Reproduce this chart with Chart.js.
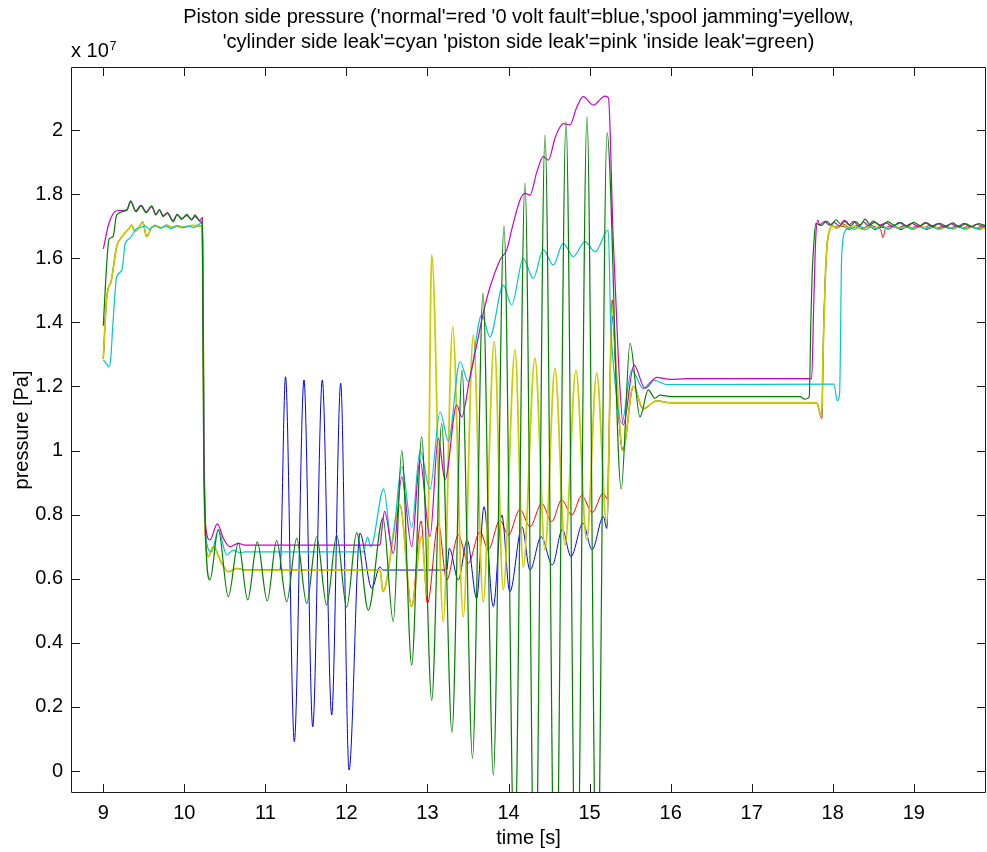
<!DOCTYPE html>
<html><head><meta charset="utf-8">
<script src="https://cdn.jsdelivr.net/npm/chart.js@4/dist/chart.umd.min.js"></script>
<style>html,body{margin:0;padding:0;background:#fff;}canvas{display:block;}</style>
</head><body>
<canvas id="c" width="987" height="852"></canvas>
<script>
// ---- axis tick values ----
const xTicks = [9,10,11,12,13,14,15,16,17,18,19];
const yTicks = [0,0.2,0.4,0.6,0.8,1,1.2,1.4,1.6,1.8,2];
const titleLines = ["Piston side pressure ('normal'=red '0 volt fault'=blue,'spool jamming'=yellow,",
                    "'cylinder side leak'=cyan 'piston side leak'=pink 'inside leak'=green)"];
// values: [time s, pressure x 1e7 Pa]
const commonStart = [[9.00,1.286],[9.04,1.47],[9.10,1.532],[9.165,1.636],[9.23,1.667],[9.308,1.690],[9.35,1.703],[9.391,1.683],[9.45,1.700],[9.486,1.713],[9.535,1.667],[9.597,1.697],[9.65,1.700],[9.72,1.695],[9.78,1.703],[9.85,1.696],[9.92,1.700],[10.0,1.697],[10.1,1.702],[10.222,1.700],[10.25,0.80],[10.296,0.669],[10.357,0.700],[10.461,0.648],[10.542,0.622],[10.646,0.632],[10.75,0.627]];
const normalRed = [[12.414,0.627],[12.45,0.56],[12.66,0.83],[12.805,0.513],[12.92,0.78],[13.0,0.523],[13.133,0.773],[13.237,0.596],[13.38,0.736],[13.503,0.648],[13.648,0.747],[13.75,0.690],[13.894,0.783],[13.997,0.736],[14.141,0.816],[14.265,0.762],[14.409,0.835],[14.532,0.778],[14.656,0.846],[14.779,0.799],[14.903,0.859],[15.033,0.807],[15.169,0.868],[15.215,0.85],[15.28,1.47],[15.33,1.22],[15.41,1.0],[15.54,1.20],[15.66,1.13],[15.83,1.155],[15.99,1.149],[17.80,1.149],[17.865,1.10],[17.885,1.35],[17.91,1.55],[17.93,1.64],[17.965,1.69],[18.0,1.70],[18.06,1.698],[18.14,1.705],[18.22,1.694],[18.30,1.702],[18.38,1.695],[18.46,1.703],[18.54,1.696],[18.59,1.690],[18.62,1.664],[18.65,1.692],[18.72,1.700],[18.80,1.694],[18.88,1.702],[18.96,1.693],[19.04,1.701],[19.12,1.695],[19.20,1.703],[19.28,1.694],[19.36,1.700],[19.44,1.692],[19.52,1.701],[19.60,1.694],[19.68,1.702],[19.76,1.693],[19.84,1.700],[19.90,1.696]];
const voltBlue = [[11.18,0.627],[11.248,1.23],[11.357,0.0915],[11.476,1.22],[11.584,0.138],[11.702,1.22],[11.818,0.175],[11.929,1.21],[12.032,0.003],[12.167,0.742],[12.312,0.570],[12.414,0.637],[12.451,0.627],[13.237,0.627],[13.269,0.695],[13.38,0.596],[13.49,0.72],[13.607,0.539],[13.697,0.825],[13.812,0.513],[13.916,0.799],[14.016,0.559],[14.166,0.762],[14.265,0.627],[14.403,0.731],[14.54,0.643],[14.664,0.754],[14.77,0.669],[14.918,0.773],[15.03,0.690],[15.17,0.794],[15.211,0.757],[15.28,1.42],[15.33,1.22],[15.41,1.0],[15.54,1.20],[15.66,1.13],[15.83,1.155],[15.99,1.149],[17.80,1.149],[17.865,1.105],[17.885,1.35],[17.91,1.55],[17.93,1.64],[17.965,1.69],[18.0,1.70],[18.04,1.694],[18.12,1.700],[18.20,1.690],[18.28,1.698],[18.36,1.692],[18.44,1.701],[18.52,1.690],[18.60,1.697],[18.68,1.693],[18.76,1.700],[18.84,1.689],[18.92,1.698],[19.00,1.692],[19.08,1.700],[19.16,1.690],[19.24,1.697],[19.32,1.693],[19.40,1.701],[19.48,1.691],[19.56,1.698],[19.64,1.692],[19.72,1.699],[19.80,1.690],[19.90,1.697]];
const spoolYellow = [[12.414,0.627],[12.45,0.56],[12.66,0.83],[12.805,0.513],[12.928,0.731],[12.994,0.55],[13.052,1.61],[13.195,0.466],[13.311,1.386],[13.442,0.481],[13.565,1.36],[13.688,0.528],[13.824,1.34],[13.935,0.565],[14.08,1.314],[14.182,0.637],[14.326,1.288],[14.45,0.690],[14.573,1.256],[14.697,0.705],[14.832,1.25],[14.964,0.721],[15.088,1.241],[15.211,0.773],[15.28,1.45],[15.33,1.25],[15.41,1.0],[15.54,1.201],[15.66,1.131],[15.83,1.155],[15.99,1.149],[17.80,1.149],[17.865,1.105],[17.88,1.30],[17.91,1.55],[17.93,1.64],[17.965,1.69],[18.0,1.700],[18.05,1.695],[18.12,1.703],[18.20,1.693],[18.28,1.700],[18.36,1.690],[18.44,1.698],[18.52,1.694],[18.60,1.702],[18.68,1.692],[18.76,1.699],[18.84,1.693],[18.92,1.701],[19.00,1.692],[19.08,1.699],[19.16,1.694],[19.24,1.700],[19.32,1.691],[19.40,1.698],[19.48,1.693],[19.56,1.700],[19.64,1.690],[19.72,1.698],[19.80,1.692],[19.90,1.697]];
const cylCyan = [[9.00,1.283],[9.04,1.270],[9.07,1.261],[9.09,1.283],[9.12,1.40],[9.165,1.542],[9.23,1.563],[9.27,1.646],[9.33,1.662],[9.40,1.690],[9.45,1.695],[9.52,1.700],[9.57,1.690],[9.64,1.703],[9.70,1.694],[9.77,1.700],[9.84,1.692],[9.90,1.702],[9.97,1.695],[10.05,1.700],[10.12,1.695],[10.18,1.706],[10.222,1.71],[10.245,0.95],[10.276,0.71],[10.337,0.684],[10.419,0.752],[10.522,0.674],[10.604,0.689],[10.687,0.681],[10.75,0.684],[12.208,0.684],[12.26,0.73],[12.30,0.70],[12.46,0.88],[12.558,0.710],[12.682,0.95],[12.805,0.76],[12.907,1.0],[13.031,0.88],[13.155,1.121],[13.257,1.03],[13.401,1.277],[13.503,1.215],[13.669,1.423],[13.771,1.355],[13.935,1.516],[14.039,1.454],[14.182,1.599],[14.305,1.537],[14.429,1.626],[14.552,1.579],[14.675,1.646],[14.799,1.605],[14.943,1.652],[15.067,1.620],[15.23,1.688],[15.26,1.40],[15.30,1.25],[15.396,1.085],[15.519,1.251],[15.662,1.194],[15.786,1.22],[15.951,1.206],[16.2,1.206],[18.015,1.207],[18.056,1.155],[18.085,1.18],[18.11,1.605],[18.151,1.683],[18.213,1.695],[18.27,1.690],[18.33,1.700],[18.40,1.688],[18.47,1.698],[18.54,1.692],[18.61,1.703],[18.68,1.690],[18.75,1.700],[18.82,1.693],[18.90,1.702],[18.98,1.690],[19.06,1.699],[19.14,1.692],[19.22,1.701],[19.30,1.690],[19.38,1.698],[19.46,1.693],[19.54,1.700],[19.62,1.691],[19.70,1.699],[19.78,1.692],[19.86,1.698],[19.90,1.694]];
const pistonPink = [[9.00,1.629],[9.07,1.709],[9.165,1.748],[9.29,1.750],[9.338,1.776],[9.40,1.748],[9.465,1.766],[9.527,1.745],[9.597,1.760],[9.65,1.735],[9.69,1.750],[9.74,1.733],[9.79,1.742],[9.86,1.718],[9.91,1.735],[9.97,1.724],[10.03,1.733],[10.09,1.722],[10.13,1.730],[10.19,1.718],[10.222,1.727],[10.24,1.05],[10.265,0.76],[10.316,0.721],[10.407,0.771],[10.481,0.726],[10.563,0.700],[10.666,0.710],[10.75,0.705],[12.414,0.705],[12.44,0.76],[12.47,0.81],[12.578,0.679],[12.682,0.918],[12.805,0.700],[12.907,0.970],[13.031,0.731],[13.133,1.038],[13.216,0.908],[13.36,1.142],[13.422,1.105],[13.524,1.230],[13.586,1.303],[13.69,1.43],[13.76,1.50],[13.894,1.594],[13.977,1.626],[14.05,1.70],[14.141,1.781],[14.203,1.802],[14.264,1.797],[14.35,1.87],[14.429,1.917],[14.49,1.906],[14.58,1.98],[14.675,2.020],[14.758,2.016],[14.84,2.07],[14.922,2.104],[15.046,2.078],[15.19,2.106],[15.233,2.10],[15.29,1.67],[15.356,1.28],[15.416,1.08],[15.548,1.267],[15.683,1.194],[15.828,1.228],[15.99,1.222],[16.2,1.224],[17.74,1.224],[17.765,1.45],[17.79,1.66],[17.815,1.719],[17.84,1.705],[17.90,1.714],[17.96,1.703],[18.02,1.712],[18.08,1.700],[18.14,1.718],[18.20,1.704],[18.26,1.715],[18.32,1.700],[18.38,1.713],[18.44,1.702],[18.50,1.716],[18.58,1.703],[18.66,1.710],[18.74,1.699],[18.82,1.712],[18.90,1.701],[18.98,1.709],[19.06,1.698],[19.14,1.711],[19.22,1.700],[19.30,1.708],[19.38,1.697],[19.46,1.707],[19.54,1.699],[19.62,1.709],[19.70,1.698],[19.78,1.706],[19.86,1.700],[19.90,1.704]];
const insideGreen = [[9.00,1.389],[9.04,1.573],[9.07,1.659],[9.12,1.667],[9.165,1.735],[9.29,1.750],[9.338,1.779],[9.403,1.745],[9.465,1.763],[9.527,1.742],[9.597,1.763],[9.650,1.737],[9.691,1.752],[9.740,1.730],[9.790,1.740],[9.864,1.714],[9.913,1.737],[9.967,1.721],[10.029,1.737],[10.091,1.719],[10.131,1.735],[10.193,1.715],[10.222,1.709],[10.235,1.10],[10.26,0.75],[10.316,0.596],[10.419,0.754],[10.542,0.544],[10.666,0.712],[10.782,0.534],[10.900,0.715],[11.023,0.531],[11.139,0.719],[11.263,0.528],[11.386,0.726],[11.510,0.523],[11.633,0.731],[11.756,0.518],[11.880,0.736],[12.003,0.511],[12.126,0.743],[12.270,0.502],[12.451,0.79],[12.578,0.466],[12.682,1.0],[12.805,0.33],[12.928,1.043],[13.052,0.22],[13.175,1.085],[13.302,0.12],[13.426,1.25],[13.555,0.04],[13.685,1.49],[13.812,-0.012],[13.944,1.70],[14.073,-0.3],[14.203,1.834],[14.326,-0.5],[14.450,1.984],[14.579,-0.6],[14.709,2.026],[14.838,-0.6],[14.968,2.042],[15.091,-0.5],[15.215,1.992],[15.39,0.88],[15.499,1.334],[15.622,1.105],[15.724,1.189],[15.807,1.163],[15.868,1.173],[16.0,1.168],[17.596,1.168],[17.658,1.160],[17.71,1.168],[17.73,1.40],[17.745,1.542],[17.77,1.657],[17.79,1.709],[17.86,1.702],[17.92,1.716],[17.98,1.704],[18.04,1.720],[18.10,1.706],[18.16,1.716],[18.22,1.700],[18.28,1.714],[18.34,1.703],[18.40,1.722],[18.46,1.705],[18.52,1.712],[18.60,1.700],[18.68,1.714],[18.76,1.703],[18.84,1.711],[18.92,1.700],[19.00,1.712],[19.08,1.702],[19.16,1.710],[19.24,1.699],[19.32,1.709],[19.40,1.700],[19.48,1.710],[19.56,1.698],[19.64,1.707],[19.72,1.699],[19.80,1.708],[19.90,1.700]];

const FONT = "'Liberation Sans', Arial, Helvetica, sans-serif";
Chart.defaults.font.family = FONT;
Chart.defaults.color = '#000';

const toXY = a => a.map(p => ({x: p[0], y: p[1]}));
function ds(label, pts, color, order, width) {
  return {label, data: toXY(pts), borderColor: color, backgroundColor: color,
    borderWidth: width, pointRadius: 0, cubicInterpolationMode: 'monotone', fill: false, order};
}

const boxPlugin = {
  id: 'boxTicks',
  afterDatasetsDraw(chart) {
    const {ctx, chartArea: a, scales: {x, y}} = chart;
    ctx.save();
    ctx.strokeStyle = '#1a1a1a';
    ctx.lineWidth = 1;
    ctx.beginPath();
    ctx.rect(a.left + 0.5, a.top + 0.5, a.right - a.left - 1, a.bottom - a.top - 1);
    const L = 9;
    xTicks.forEach(v => {
      const px = Math.round(x.getPixelForValue(v)) + 0.5;
      ctx.moveTo(px, a.bottom); ctx.lineTo(px, a.bottom - L);
      ctx.moveTo(px, a.top); ctx.lineTo(px, a.top + L);
    });
    yTicks.forEach(v => {
      const py = Math.round(y.getPixelForValue(v)) + 0.5;
      ctx.moveTo(a.left, py); ctx.lineTo(a.left + L, py);
      ctx.moveTo(a.right, py); ctx.lineTo(a.right - L, py);
    });
    ctx.stroke();
    ctx.fillStyle = '#000';
    // title, centred over the axes
    ctx.font = '20px ' + FONT;
    ctx.textAlign = 'center';
    ctx.textBaseline = 'middle';
    const cx = (a.left + a.right) / 2 - 10;
    ctx.fillText(titleLines[0], cx, 17.5);
    ctx.fillText(titleLines[1], cx, 42.5);
    // exponent label
    ctx.textBaseline = 'alphabetic';
    ctx.textAlign = 'left';
    const base = 'x 10';
    ctx.fillText(base, a.left, 57);
    const w = ctx.measureText(base).width;
    ctx.font = '12px ' + FONT;
    ctx.fillText('7', a.left + w + 1, 50);
    ctx.restore();
  }
};

new Chart(document.getElementById('c'), {
  type: 'line',
  data: {
    datasets: [
      ds('normal', commonStart.concat(normalRed), '#ff0000', 5, 1.0),
      ds('0 volt fault', commonStart.concat(voltBlue), '#0000ff', 4, 1.0),
      ds('spool jamming', commonStart.concat(spoolYellow), '#cccc00', 3, 1.8),
      ds('cylinder side leak', cylCyan, '#00c8c8', 2, 1.2),
      ds('piston side leak', pistonPink, '#cc00cc', 1, 1.2),
      ds('inside leak', insideGreen, '#008000', 0, 1.2)
    ]
  },
  options: {
    responsive: false, animation: false, devicePixelRatio: 1,
    layout: {padding: {left: 0, right: 1, top: 67, bottom: 0}},
    plugins: {
      legend: {display: false}, tooltip: {enabled: false}, title: {display: false}
    },
    scales: {
      x: {
        type: 'linear', min: 8.6015, max: 19.891,
        afterBuildTicks: s => { s.ticks = xTicks.map(v => ({value: v})); },
        afterFit: s => { s.height = 59; },
        grid: {display: false, drawTicks: false},
        border: {display: false},
        ticks: {autoSkip: false, maxRotation: 0, padding: 8, color: '#000', font: {size: 20},
          callback: v => String(v)},
        title: {display: true, text: 'time [s]', color: '#000', font: {size: 20}, padding: {top: 0, bottom: 2}}
      },
      y: {
        type: 'linear', min: -0.0686, max: 2.1966,
        afterBuildTicks: s => { s.ticks = yTicks.map(v => ({value: v})); },
        afterFit: s => { s.width = 71; },
        grid: {display: false, drawTicks: false},
        border: {display: false},
        ticks: {autoSkip: false, padding: 8, color: '#000', font: {size: 20},
          callback: v => String(+Number(v).toFixed(1))},
        title: {display: true, text: 'pressure [Pa]', color: '#000', font: {size: 20}, padding: {top: 10, bottom: 0}}
      }
    }
  },
  plugins: [boxPlugin]
});
</script>
</body></html>
